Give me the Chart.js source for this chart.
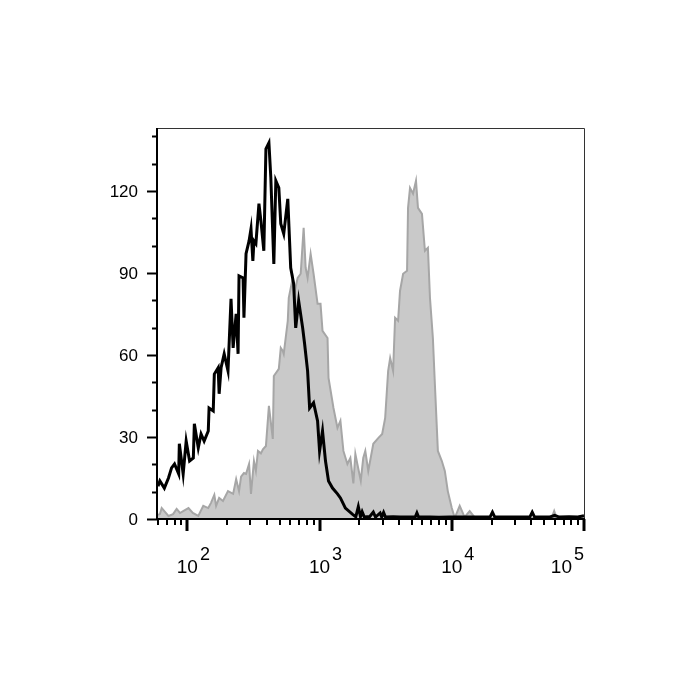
<!DOCTYPE html>
<html>
<head>
<meta charset="utf-8">
<script src="https://cdn.jsdelivr.net/npm/chart.js@4"></script>
<style>
  html, body { margin: 0; padding: 0; background: #fff; }
  #wrap { width: 700px; height: 700px; }
</style>
</head>
<body>
<div id="wrap"><canvas id="histo" width="700" height="700"></canvas></div>
<script>
'use strict';

// Isotype control (black line): fluorescence intensity and cell counts
const blackX = [60, 62, 67, 72, 76, 80, 86, 87, 93, 98, 104, 111, 113, 121, 127, 134, 144, 146, 157, 160,
    171, 174, 180, 190, 203, 214, 222, 234, 242, 246, 264, 268, 278, 293, 303, 313, 319, 330, 348, 360,
    379, 393, 414, 428, 451, 467, 492, 509, 536, 575, 605, 637, 660, 695, 745, 771, 812, 841, 901, 966,
    1000, 1053, 1109, 1169, 1253, 1366, 1438, 1568, 1770,
    1880, 1964, 2040, 2100, 2180, 2400, 2550, 2650, 2870, 2950, 3050, 3150, 3600, 4060, 5300, 5450, 5600, 6840, 8000, 9660,
    13660, 19500, 20300, 21100, 27300, 39000, 40600, 42200, 54600, 60000, 65000, 77100, 90000, 100000];
const blackY = [12.0, 13.9, 11.3, 15.0, 18.7, 20.1, 16.5, 27.5, 16.5, 28.5, 21.2, 22.3, 34.8, 26.0, 31.1, 28.5, 32.2, 40.6, 39.5, 53.0,
    55.3, 45.8, 55.3, 60.4, 54.2, 80.5, 62.6, 75.0, 60.4, 88.9, 88.2, 73.6, 97.0, 101.7, 106.1, 94.4, 101.7, 100.7, 115.3, 109.1,
    98.1, 135.4, 137.6, 124.8, 93.3, 123.7, 121.1, 108.0, 104.3, 117.1, 91.9, 86.0, 69.9, 79.8, 69.9, 64.0, 54.2, 40.6, 42.5, 35.9,
    24.9, 32.2, 21.2, 13.9, 11.3, 9.2, 7.7, 4.0, 1.8,
    0.8, 4.5, 0.8, 2.6, 0.7, 0.9, 2.5, 0.7, 2.2, 0.7, 2.4, 0.7, 0.8, 0.7, 0.8, 2.2, 0.8, 0.7, 0.6, 0.7,
    0.7, 0.8, 2.5, 0.8, 0.7, 0.8, 2.5, 0.8, 0.7, 1.3, 0.7, 0.8, 0.7, 1.2];

// Stained sample (grey filled histogram)
const grayX = [60, 62, 64, 67, 72, 78, 83, 88, 93, 102, 110, 121, 132, 144, 151, 160, 165, 174, 186, 203,
    222, 234, 246, 255, 268, 278, 293, 303, 319, 330, 342, 360, 373, 393, 414, 443, 451, 492, 509, 527,
    536, 575, 585, 627, 650, 683, 720, 758, 785, 812, 856, 901, 966, 1017, 1053, 1149, 1169, 1274, 1366, 1438,
    1515, 1624, 1710, 1802, 1865, 1931, 2050, 2140, 2218, 2336, 2550, 2777, 2976, 3135, 3302, 3420, 3600, 3727, 3926, 4060,
    4285, 4590, 4669, 4833, 5093, 5362, 5550, 5950, 6266, 6600, 6840, 7196, 7450, 7850, 8410, 8860, 9330, 10000, 10530, 11480,
    12500, 13660, 15000, 18000, 22000, 27000, 33000, 40000, 48000, 57000, 59500, 62000, 80000, 100000];
const grayY = [1.5, 1.8, 4.0, 2.9, 1.1, 1.8, 3.7, 2.2, 2.9, 4.0, 2.2, 1.1, 4.8, 4.0, 5.9, 8.8, 4.8, 7.7, 6.6, 10.2,
    9.2, 14.6, 10.2, 15.5, 16.8, 16.5, 20.1, 9.2, 21.2, 17.6, 24.9, 24.0, 25.5, 26.7, 41.4, 29.3, 52.3, 54.9, 62.6, 61.5,
    60.4, 72.5, 80.9, 88.2, 83.4, 88.2, 89.7, 106.5, 91.9, 88.2, 97.0, 89.7, 78.7, 78.7, 68.8, 66.2, 51.6, 40.6, 33.3, 35.9,
    24.9, 20.1, 22.3, 13.0, 23.8, 20.1, 14.0, 22.3, 24.9, 17.6, 27.5, 29.6, 31.1, 37.0, 54.2, 58.9, 54.2, 73.6, 72.5, 83.4,
    89.7, 90.8, 113.8, 121.1, 119.0, 123.7, 113.8, 111.6, 98.1, 99.2, 80.9, 66.2, 49.4, 24.9, 21.2, 17.6, 10.2, 4.0, 0.4, 4.8,
    0.7, 2.9, 0.4, 0.6, 0.3, 0.5, 0.3, 0.4, 0.3, 0.4, 2.9, 0.4, 0.6, 0.3];

// Axis ticks
const yTickLabels = [0, 30, 60, 90, 120];
const yMinorStep = 10;
const xDecades = [2, 3, 4, 5];
const xMin = 60, xMax = 100000, yMax = 143;

const toPoints = (xs, ys) => xs.map((v, i) => ({ x: v, y: ys[i] }));

/**
 * Draws the box frame, tick marks and the 10^n labels by hand,
 * since Chart.js can't do two tick lengths or superscripts.
 */
const axisDecor = {
    id: 'axisDecor',
    afterDraw(chart) {
        const { ctx, chartArea: a, scales: { x, y } } = chart;
        ctx.save();

        // thin top/right frame
        ctx.strokeStyle = '#333';
        ctx.lineWidth = 1;
        ctx.beginPath();
        ctx.moveTo(a.left, a.top + 0.5);
        ctx.lineTo(a.right + 0.5, a.top + 0.5);
        ctx.lineTo(a.right + 0.5, a.bottom);
        ctx.stroke();

        // heavier left/bottom axes
        ctx.strokeStyle = '#000';
        ctx.lineWidth = 2;
        ctx.beginPath();
        ctx.moveTo(a.left - 1, a.top);
        ctx.lineTo(a.left - 1, a.bottom);
        ctx.lineTo(a.right + 1, a.bottom);
        ctx.stroke();

        // y ticks
        ctx.lineWidth = 2;
        for (let v = 0; v <= yMax; v += yMinorStep) {
            const py = Math.round(y.getPixelForValue(v)) + 0.5;
            const len = yTickLabels.includes(v) ? 10 : 5;
            ctx.beginPath();
            ctx.moveTo(a.left - 1 - len, py);
            ctx.lineTo(a.left - 1, py);
            ctx.stroke();
        }

        // x ticks (log decades with 2..9 minors)
        for (let n = 1; n <= 5; n++) {
            for (let k = 1; k <= 9; k++) {
                const v = k * Math.pow(10, n);
                if (v < xMin || v > xMax) continue;
                const px = Math.round(x.getPixelForValue(v));
                const len = k === 1 ? 12 : 6;
                ctx.lineWidth = k === 1 ? 3 : 2;
                ctx.beginPath();
                ctx.moveTo(px, a.bottom);
                ctx.lineTo(px, a.bottom + len);
                ctx.stroke();
            }
        }

        // y labels
        ctx.fillStyle = '#000';
        ctx.font = '17px "Liberation Sans", Arial, sans-serif';
        ctx.textAlign = 'right';
        ctx.textBaseline = 'middle';
        yTickLabels.forEach(v => {
            ctx.fillText(String(v), a.left - 20, y.getPixelForValue(v) + 1);
        });

        // x labels: "10" with superscript exponent
        const baseFont = '19px "Liberation Sans", Arial, sans-serif';
        const supFont = '18px "Liberation Sans", Arial, sans-serif';
        ctx.textBaseline = 'alphabetic';
        ctx.textAlign = 'left';
        xDecades.forEach((n, i) => {
            const px = x.getPixelForValue(Math.pow(10, n));
            ctx.font = baseFont;
            const wBase = ctx.measureText('10').width;
            ctx.font = supFont;
            const wSup = ctx.measureText(String(n)).width;
            let left = px - wBase / 2;
            if (i === xDecades.length - 1) {
                left = a.right + 1 - wSup - 3 - wBase;
            }
            ctx.font = baseFont;
            ctx.fillText('10', left, a.bottom + 54);
            ctx.font = supFont;
            ctx.fillText(String(n), left + wBase + 2, a.bottom + 41);
        });

        ctx.restore();
    }
};

new Chart(document.getElementById('histo'), {
    type: 'line',
    data: {
        datasets: [
            {
                label: 'Isotype',
                data: toPoints(blackX, blackY),
                borderColor: '#000',
                borderWidth: 3,
                pointRadius: 0,
                fill: false,
                tension: 0,
                order: 0
            },
            {
                label: 'Stained',
                data: toPoints(grayX, grayY),
                borderColor: '#a6a6a6',
                backgroundColor: '#c9c9c9',
                borderWidth: 2,
                pointRadius: 0,
                fill: 'origin',
                tension: 0,
                order: 1
            }
        ]
    },
    options: {
        responsive: false,
        animation: false,
        layout: { padding: { left: 158, right: 116, top: 128, bottom: 181 } },
        plugins: {
            legend: { display: false },
            tooltip: { enabled: false }
        },
        scales: {
            x: { type: 'logarithmic', min: xMin, max: xMax, display: false },
            y: { type: 'linear', min: 0, max: yMax, display: false }
        }
    },
    plugins: [axisDecor]
});
</script>
</body>
</html>
